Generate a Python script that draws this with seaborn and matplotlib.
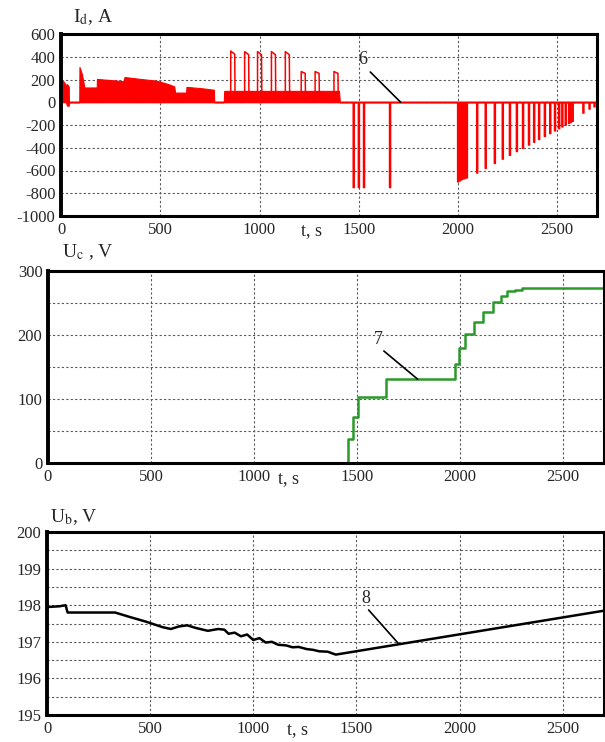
import numpy as np
import pandas as pd
import matplotlib
matplotlib.use("Agg")
import matplotlib.pyplot as plt
import matplotlib.transforms as mtransforms
import seaborn as sns

# ---- panel 1: I_d, A (red) ----
# envelope of the dense switching band
band_t = [0, 10, 25, 30, 38, 39, 40, 92, 93, 105, 118, 180, 181, 250, 315, 320, 400,
          480, 540, 570, 575, 630, 632, 700, 770, 772, 820, 822, 1400, 1405, 2700]
band_top = [170, 190, 150, 160, 140, 140, 0, 0, 310, 250, 130, 130, 205, 195, 185, 222, 205,
            190, 160, 140, 85, 85, 135, 125, 110, 0, 0, 100, 100, 0, 0]
band_low = [0, 0, 0, -30, -30, -30, 0, 0, 0, 0, 0, 0, 0, 0, 0, 0, 0,
            0, 0, 0, 0, 0, 0, 0, 0, 0, 0, 0, 0, 0, 0]
# positive current pulses
pulse_t = [855, 925, 990, 1060, 1130, 1210, 1280, 1375]
pulse_h = [450, 445, 445, 445, 445, 270, 270, 270]
# negative current spikes
spike_t = [1472, 1498, 1524, 1655, 1998, 2008, 2016, 2024, 2032, 2042,
           2094, 2137, 2183, 2223, 2259, 2294, 2325, 2355, 2381, 2406, 2435,
           2462, 2486, 2507, 2523, 2540, 2557, 2565, 2575, 2629, 2660, 2685]
spike_d = [-750, -750, -750, -750, -700, -690, -680, -675, -670, -665,
           -622, -581, -538, -500, -466, -433, -404, -376, -351, -327, -300,
           -275, -252, -232, -217, -201, -185, -177, -168, -95, -60, -40]

# ---- panel 2: U_c, V (green staircase) ----
uc_t = [0, 1458, 1480, 1507, 1640, 1978, 1996, 2024, 2071, 2114, 2159, 2201, 2229, 2267, 2304, 2700]
uc_v = [0, 37, 72, 103, 131, 155, 179, 201, 220, 236, 251, 261, 268, 271, 274, 274]

# ---- panel 3: U_b, V (black) ----
ub_t = [0, 60, 90, 100, 330, 400, 480, 560, 600, 640, 680, 720, 780, 830, 860, 880, 910,
        940, 970, 1000, 1030, 1060, 1090, 1120, 1160, 1190, 1220, 1260, 1290, 1320, 1360,
        1400, 2700]
ub_v = [197.95, 197.97, 198.0, 197.8, 197.8, 197.68, 197.55, 197.4, 197.35, 197.42, 197.45,
        197.38, 197.3, 197.35, 197.33, 197.22, 197.25, 197.15, 197.2, 197.05, 197.1, 196.98,
        197.0, 196.92, 196.9, 196.85, 196.86, 196.8, 196.78, 196.74, 196.73, 196.65, 197.85]

x_ticks = [0, 500, 1000, 1500, 2000, 2500]

sns.set_style("white")
plt.rcParams['font.family'] = ['Liberation Serif', 'DejaVu Serif']
plt.rcParams['mathtext.fontset'] = 'stix'
plt.rcParams['axes.unicode_minus'] = False

fig = plt.figure(figsize=(6.05, 7.42), dpi=100)
W, H = 605, 742


def add_ax(l, t, r, b):
    return fig.add_axes([l / W, 1 - b / H, (r - l) / W, (b - t) / H])


def style_ax(ax, yticks, yminor, ylim):
    ax.set_xlim(0, 2700)
    ax.set_ylim(*ylim)
    ax.set_xticks(x_ticks)
    ax.set_yticks(yticks)
    ax.set_yticks(yminor, minor=True)
    ax.grid(True, which='both', linestyle=(0, (2, 2)), color='0.35', linewidth=0.8)
    for s in ax.spines.values():
        s.set_color('black')
        s.set_linewidth(2.2)
    ax.spines['left'].set_linewidth(2.8)
    ax.tick_params(which='both', direction='in', length=0, labelsize=12, pad=4)
    ax.set_xlabel('')
    ax.set_ylabel('')


def t_label(ax, x):
    tr = mtransforms.blended_transform_factory(ax.transData, ax.transAxes)
    ax.text(x, -0.035, 't, s', transform=tr, ha='center', va='top', fontsize=13)


# panel 1
ax1 = add_ax(61, 34, 597, 216)
ax1.fill_between(band_t, band_low, band_top, color='red', linewidth=0.8)

pts = [(0, 0)]
for t0, h in zip(pulse_t, pulse_h):
    pts += [(t0, 0), (t0, h), (t0 + 20, h * 0.94), (t0 + 22, 0)]
for t0, d in zip(spike_t, spike_d):
    pts += [(t0, 0), (t0, d), (t0 + 5, d), (t0 + 5, 0)]
pts += [(2700, 0)]
pts.sort(key=lambda p: p[0])
id_df = pd.DataFrame(pts, columns=['t', 'I'])
sns.lineplot(data=id_df, x='t', y='I', ax=ax1, color='red', linewidth=1.1,
             estimator=None, sort=False)
style_ax(ax1, list(range(-1000, 601, 200)), [], (-1000, 600))
ax1.plot([1558, 1711], [266, 0], color='black', linewidth=1.2)
ax1.text(1518, 300, '6', fontsize=13, ha='center', va='bottom')
t_label(ax1, 1264)

# panel 2
ax2 = add_ax(48, 271, 604, 463)
uc_df = pd.DataFrame({'t': uc_t, 'U': uc_v})
sns.lineplot(data=uc_df, x='t', y='U', ax=ax2, color='#2a9a2a', linewidth=1.8,
             drawstyle='steps-post', estimator=None, sort=False)
style_ax(ax2, [0, 100, 200, 300], [50, 150, 250], (0, 300))
ax2.plot([1631, 1795], [175, 131], color='black', linewidth=1.2)
ax2.text(1602, 180, '7', fontsize=13, ha='center', va='bottom')
t_label(ax2, 1168)

# panel 3
ax3 = add_ax(47, 532, 604, 715)
ub_df = pd.DataFrame({'t': ub_t, 'U': ub_v})
sns.lineplot(data=ub_df, x='t', y='U', ax=ax3, color='black', linewidth=1.8,
             estimator=None, sort=False)
style_ax(ax3, [195, 196, 197, 198, 199, 200], [195.5, 196.5, 197.5, 198.5, 199.5], (195, 200))
ax3.plot([1559, 1704], [197.87, 196.95], color='black', linewidth=1.2)
ax3.text(1545, 197.95, '8', fontsize=13, ha='center', va='bottom')
t_label(ax3, 1216)

fig.text(73 / W, 1 - 22 / H, r'I$_\mathrm{d}$, A', fontsize=14, va='baseline')
fig.text(62 / W, 1 - 257 / H, r'U$_\mathrm{c}$ , V', fontsize=14, va='baseline')
fig.text(50 / W, 1 - 522 / H, r'U$_\mathrm{b}$, V', fontsize=14, va='baseline')

fig.savefig('out.png', dpi=100)
